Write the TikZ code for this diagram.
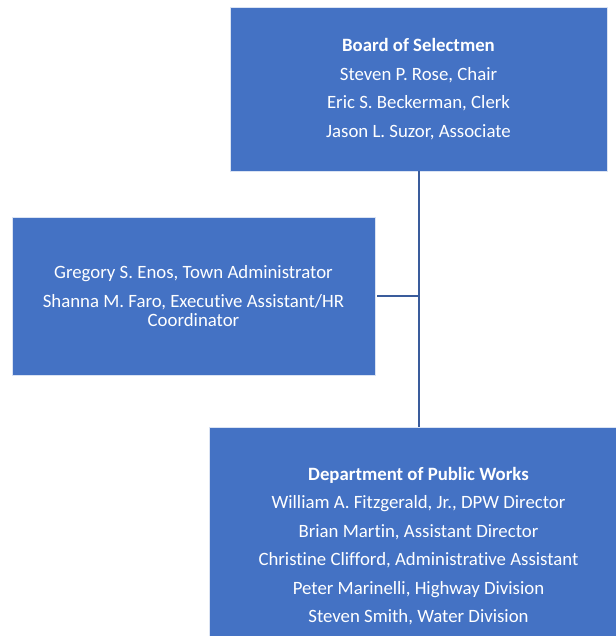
\documentclass[tikz,border=0pt]{standalone}
\usepackage{fontspec}
\setmainfont{Carlito}[Ligatures=NoCommon]
\usepackage{tikz}
\definecolor{boxblue}{HTML}{4472C4}
\definecolor{lineblue}{HTML}{3A5C9C}
\tikzstyle{unit}=[fill=boxblue,draw=white!80!boxblue,line width=.6pt,text=white,align=center,inner sep=0pt,font=\fontsize{18.8}{19}\selectfont]
\tikzstyle{link}=[draw=lineblue,line width=2pt]

\begin{document}
\begin{tikzpicture}[x=1pt,y=-1pt]

	\useasboundingbox (0,0) rectangle (615,636);

	%boxes
	\node[unit,minimum width=377pt,minimum height=164pt] (board) at (418.5,89)
		{\textbf{Board of Selectmen}\\[9.5pt]Steven P. Rose, Chair\\[9.5pt]Eric S. Beckerman, Clerk\\[9.5pt]Jason L. Suzor, Associate};
	\node[unit,minimum width=363pt,minimum height=158pt] (admin) at (193.5,296)
		{Gregory S. Enos, Town Administrator\\[9.5pt]Shanna M. Faro, Executive Assistant/HR\\Coordinator};
	\node[unit,minimum width=419pt,minimum height=238pt] (dpw) at (418.5,546)
		{\textbf{Department of Public Works}\\[9.5pt]William A. Fitzgerald, Jr., DPW Director\\[9.5pt]Brian Martin, Assistant Director\\[9.5pt]Christine Clifford, Administrative Assistant\\[9.5pt]Peter Marinelli, Highway Division\\[9.5pt]Steven Smith, Water Division};

	%connectors
	\coordinate (joint) at (board.south |- admin.east);
	\draw[link] (board.south) -- (dpw.north);
	\draw[link,shorten <=2pt] (admin.east) -- (joint);
\end{tikzpicture}
\end{document}
